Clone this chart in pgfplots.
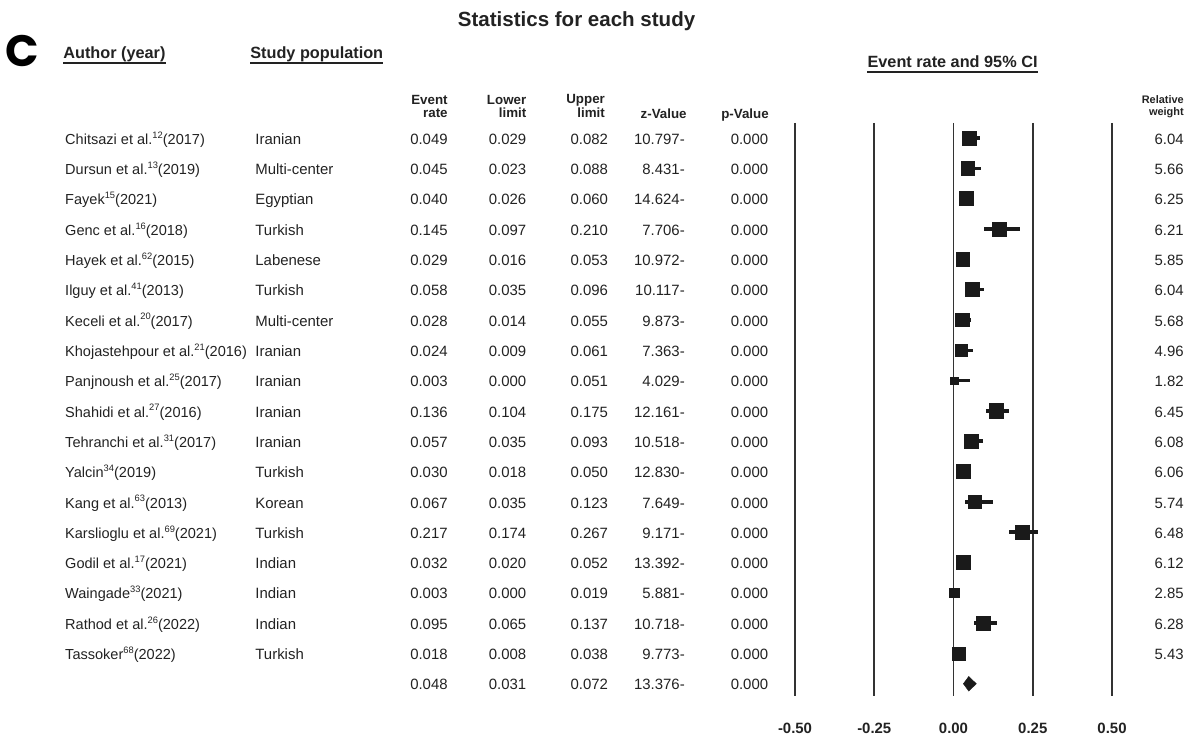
\documentclass[border=0pt]{standalone}
\usepackage{fontspec}
\setmainfont{Liberation Sans}
\newfontfamily\popfont{Poppins}
\usepackage{pgfplots}
\usepackage{pgfplotstable}
\pgfplotsset{compat=1.18}

\definecolor{ink}{HTML}{1A1A1A}
\definecolor{txt}{HTML}{222222}
\definecolor{vline}{HTML}{333333}

% row, event rate, lower, upper, relative weight
\pgfplotstableread{
i er lo hi w
0 0.049 0.029 0.082 6.04
1 0.045 0.023 0.088 5.66
2 0.040 0.026 0.060 6.25
3 0.145 0.097 0.210 6.21
4 0.029 0.016 0.053 5.85
5 0.058 0.035 0.096 6.04
6 0.028 0.014 0.055 5.68
7 0.024 0.009 0.061 4.96
8 0.003 0.000 0.051 1.82
9 0.136 0.104 0.175 6.45
10 0.057 0.035 0.093 6.08
11 0.030 0.018 0.050 6.06
12 0.067 0.035 0.123 5.74
13 0.217 0.174 0.267 6.48
14 0.032 0.020 0.052 6.12
15 0.003 0.000 0.019 2.85
16 0.095 0.065 0.137 6.28
17 0.018 0.008 0.038 5.43
}\studies

% column positions (data units of the x axis)
\def\xAu{-2.803}
\def\xPo{-2.203}
\def\xEr{-1.595}
\def\xLo{-1.347}
\def\xUp{-1.089}
\def\xZ{-0.847}
\def\xP{-0.584}
\def\xW{0.727}

\newcommand\sups[1]{\raisebox{0.42em}{\fontsize{7}{7}\selectfont #1}}

\newcommand\studyrow[9]{%
  \node[dat, anchor=mid west, font=\fontsize{10.9}{13}\selectfont] at (axis cs:\xAu,#1) {#2};
  \node[dat, anchor=mid west] at (axis cs:\xPo,#1) {#3};
  \node[dat, anchor=mid east] at (axis cs:\xEr,#1) {#4};
  \node[dat, anchor=mid east] at (axis cs:\xLo,#1) {#5};
  \node[dat, anchor=mid east] at (axis cs:\xUp,#1) {#6};
  \node[dat, anchor=mid east] at (axis cs:\xZ,#1) {#7};
  \node[dat, anchor=mid east] at (axis cs:\xP,#1) {#8};
  \node[dat, anchor=mid east] at (axis cs:\xW,#1) {#9};
}

\begin{document}
\begin{tikzpicture}[
  dat/.style={inner sep=0pt, text=txt, font=\fontsize{11.2}{13}\selectfont, yshift=-2pt},
  hdr/.style={inner sep=0pt, text=txt, font=\fontsize{10}{11}\selectfont\bfseries, yshift=-1pt},
  big/.style={inner sep=0pt, text=txt, font=\fontsize{12.2}{14}\selectfont\bfseries, yshift=-1pt},
]
\begin{axis}[
  scale only axis,
  width=891pt, height=553.5pt,
  xmin=-3.0079, xmax=0.7397,
  ymin=-4.551, ymax=19.789,
  y dir=reverse,
  hide axis,
  clip=false,
]
% vertical reference lines
\pgfplotsinvokeforeach{-0.5,-0.25,0,0.25,0.5}{
  \addplot[vline, line width=1.4pt] coordinates {(#1,-0.495) (#1,18.40)};
}
% confidence intervals
\addplot[draw=none, mark=none,
  error bars/.cd, x dir=both, x explicit, error mark=none,
  error bar style={line width=2.6pt, ink}]
  table[x=er, y=i,
        x error plus expr=\thisrow{hi}-\thisrow{er},
        x error minus expr=\thisrow{er}-\thisrow{lo}] {\studies};
% squares sized by weight
\addplot[scatter, only marks, mark=square*,
  scatter/use mapped color={draw=ink, fill=ink},
  visualization depends on={2.1*sqrt(\thisrow{w}) \as \msz},
  scatter/@pre marker code/.append style={/tikz/mark size=\msz, /tikz/line width=0.2pt}]
  table[x=er, y=i] {\studies};
% summary diamond
\addplot[fill=ink, draw=ink, line width=0.3pt] coordinates
  {(0.031,18) (0.048,17.76) (0.072,18) (0.048,18.24)} --cycle;

% title and headers
\node[inner sep=0pt, text=txt, font=\fontsize{15.4}{17}\selectfont\bfseries, yshift=-1pt] at (axis cs:-1.189,-3.908) {Statistics for each study};
\node[inner sep=0pt, text=black, font=\popfont\fontsize{33}{36}\selectfont\bfseries] at (axis cs:-2.937,-2.869) {C};
\node[big, anchor=mid west] (au) at (axis cs:-2.809,-2.787) {Author (year)};
\draw[txt, line width=1.4pt] ([yshift=-3.3pt]au.base west) -- ([yshift=-3.3pt]au.base east);
\node[big, anchor=mid west] (sp) at (axis cs:-2.219,-2.787) {Study population};
\draw[txt, line width=1.4pt] ([yshift=-3.3pt]sp.base west) -- ([yshift=-3.3pt]sp.base east);
\node[big, anchor=mid] (ci) at (axis cs:-0.003,-2.474) {Event rate and 95\% CI};
\draw[txt, line width=1.4pt] ([yshift=-3.3pt]ci.base west) -- ([yshift=-3.3pt]ci.base east);

\node[hdr, anchor=mid east] at (axis cs:\xEr,-1.253) {Event};
\node[hdr, anchor=mid east] at (axis cs:\xEr,-0.825) {rate};
\node[hdr, anchor=mid east] at (axis cs:\xLo,-1.253) {Lower};
\node[hdr, anchor=mid east] at (axis cs:\xLo,-0.825) {limit};
\node[hdr, anchor=mid east] at (axis cs:-1.099,-1.300) {Upper};
\node[hdr, anchor=mid east] at (axis cs:-1.099,-0.825) {limit};
\node[hdr, anchor=mid east] at (axis cs:-0.841,-0.792) {z-Value};
\node[hdr, anchor=mid east] at (axis cs:-0.582,-0.792) {p-Value};
\node[hdr, anchor=mid east, font=\fontsize{8.2}{9}\selectfont\bfseries] at (axis cs:\xW,-1.286) {Relative};
\node[hdr, anchor=mid east, font=\fontsize{8.2}{9}\selectfont\bfseries] at (axis cs:\xW,-0.891) {weight};

% table rows
\studyrow{0}{Chitsazi et al.\sups{12}(2017)}{Iranian}{0.049}{0.029}{0.082}{10.797-}{0.000}{6.04}
\studyrow{1}{Dursun et al.\sups{13}(2019)}{Multi-center}{0.045}{0.023}{0.088}{8.431-}{0.000}{5.66}
\studyrow{2}{Fayek\sups{15}(2021)}{Egyptian}{0.040}{0.026}{0.060}{14.624-}{0.000}{6.25}
\studyrow{3}{Genc et al.\sups{16}(2018)}{Turkish}{0.145}{0.097}{0.210}{7.706-}{0.000}{6.21}
\studyrow{4}{Hayek et al.\sups{62}(2015)}{Labenese}{0.029}{0.016}{0.053}{10.972-}{0.000}{5.85}
\studyrow{5}{Ilguy et al.\sups{41}(2013)}{Turkish}{0.058}{0.035}{0.096}{10.117-}{0.000}{6.04}
\studyrow{6}{Keceli et al.\sups{20}(2017)}{Multi-center}{0.028}{0.014}{0.055}{9.873-}{0.000}{5.68}
\studyrow{7}{Khojastehpour et al.\sups{21}(2016)}{Iranian}{0.024}{0.009}{0.061}{7.363-}{0.000}{4.96}
\studyrow{8}{Panjnoush et al.\sups{25}(2017)}{Iranian}{0.003}{0.000}{0.051}{4.029-}{0.000}{1.82}
\studyrow{9}{Shahidi et al.\sups{27}(2016)}{Iranian}{0.136}{0.104}{0.175}{12.161-}{0.000}{6.45}
\studyrow{10}{Tehranchi et al.\sups{31}(2017)}{Iranian}{0.057}{0.035}{0.093}{10.518-}{0.000}{6.08}
\studyrow{11}{Yalcin\sups{34}(2019)}{Turkish}{0.030}{0.018}{0.050}{12.830-}{0.000}{6.06}
\studyrow{12}{Kang et al.\sups{63}(2013)}{Korean}{0.067}{0.035}{0.123}{7.649-}{0.000}{5.74}
\studyrow{13}{Karslioglu et al.\sups{69}(2021)}{Turkish}{0.217}{0.174}{0.267}{9.171-}{0.000}{6.48}
\studyrow{14}{Godil et al.\sups{17}(2021)}{Indian}{0.032}{0.020}{0.052}{13.392-}{0.000}{6.12}
\studyrow{15}{Waingade\sups{33}(2021)}{Indian}{0.003}{0.000}{0.019}{5.881-}{0.000}{2.85}
\studyrow{16}{Rathod et al.\sups{26}(2022)}{Indian}{0.095}{0.065}{0.137}{10.718-}{0.000}{6.28}
\studyrow{17}{Tassoker\sups{68}(2022)}{Turkish}{0.018}{0.008}{0.038}{9.773-}{0.000}{5.43}
\node[dat, anchor=mid east] at (axis cs:\xEr,18) {0.048};
\node[dat, anchor=mid east] at (axis cs:\xLo,18) {0.031};
\node[dat, anchor=mid east] at (axis cs:\xUp,18) {0.072};
\node[dat, anchor=mid east] at (axis cs:\xZ,18) {13.376-};
\node[dat, anchor=mid east] at (axis cs:\xP,18) {0.000};

% axis tick labels
\node[hdr, font=\fontsize{11.2}{13}\selectfont\bfseries] at (axis cs:-0.5,19.44) {-0.50};
\node[hdr, font=\fontsize{11.2}{13}\selectfont\bfseries] at (axis cs:-0.25,19.44) {-0.25};
\node[hdr, font=\fontsize{11.2}{13}\selectfont\bfseries] at (axis cs:0,19.44) {0.00};
\node[hdr, font=\fontsize{11.2}{13}\selectfont\bfseries] at (axis cs:0.25,19.44) {0.25};
\node[hdr, font=\fontsize{11.2}{13}\selectfont\bfseries] at (axis cs:0.5,19.44) {0.50};
\end{axis}
\pgfresetboundingbox
\path (current axis.south west) rectangle (current axis.north east);
\end{tikzpicture}
\end{document}
